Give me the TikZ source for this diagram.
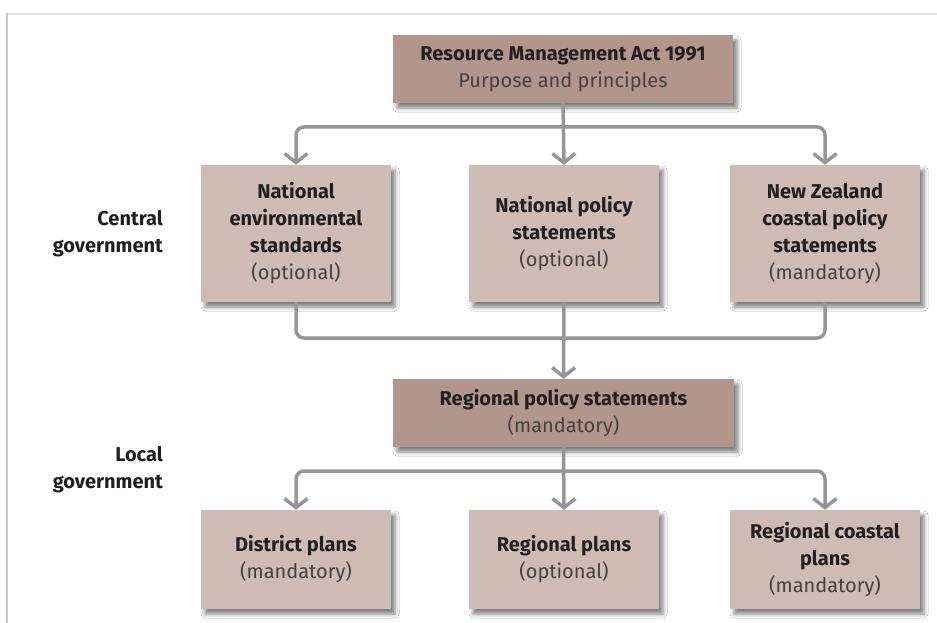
\documentclass[tikz,border=0pt]{standalone}
\usepackage{fontspec}
\setmainfont{Fira Sans}
\usetikzlibrary{arrows.meta,shadows.blur}
\definecolor{rmadark}{RGB}{178,150,140}
\definecolor{boxlight}{RGB}{205,187,180}
\definecolor{conncol}{RGB}{150,150,153}
\definecolor{boldtext}{RGB}{35,31,32}
\definecolor{regtext}{RGB}{70,64,64}
\tikzset{
  boxbase/.style={inner sep=0pt, align=center, text=boldtext,
    font=\fontsize{20}{27}\selectfont,
    blur shadow={shadow xshift=4pt, shadow yshift=-5pt, shadow blur radius=4pt, shadow opacity=50}},
  mainbox/.style={boxbase, fill=rmadark, minimum width=340pt, minimum height=68pt},
  midbox/.style={boxbase, fill=boxlight, minimum width=190pt, minimum height=137pt},
  lowbox/.style={boxbase, fill=boxlight, minimum width=190pt, minimum height=99pt},
  lbl/.style={inner sep=0pt, align=right, text=boldtext, font=\fontsize{20}{27}\selectfont\bfseries},
  ln/.style={draw=conncol, line width=3.5pt, rounded corners=8pt},
  arr/.style={ln, -{Straight Barb[length=9pt,width=23pt]}},
}
\newcommand{\rg}[1]{{\mdseries\color{regtext}#1}}
\begin{document}
\begin{tikzpicture}[x=1pt,y=-1pt]
\useasboundingbox (0,0) rectangle (937,623);
\fill[white] (0,0) rectangle (937,623);
\draw[gray!22, line width=2pt] (7,14) -- (937,14);
\draw[gray!45, line width=1.5pt] (7,13) -- (7,623);

\node[mainbox] (rma) at (563,69) {\bfseries Resource Management Act 1991\\\rg{Purpose and principles}};
\node[midbox] (nes) at (296,233.5) {\bfseries National\\\bfseries environmental\\\bfseries standards\\\rg{(optional)}};
\node[midbox] (nps) at (564,233.5) {\bfseries National policy\\\bfseries statements\\\rg{(optional)}};
\node[midbox] (nzcps) at (825,233.5) {\bfseries New Zealand\\\bfseries coastal policy\\\bfseries statements\\\rg{(mandatory)}};
\node[mainbox, minimum width=341pt] (rps) at (563.5,413) {\bfseries Regional policy statements\\\rg{(mandatory)}};
\node[lowbox] (dp) at (296,559.5) {\bfseries District plans\\\rg{(mandatory)}};
\node[lowbox] (rp) at (564,559.5) {\bfseries Regional plans\\\rg{(optional)}};
\node[lowbox] (rcp) at (825,559.5) {\bfseries Regional coastal\\\bfseries plans\\\rg{(mandatory)}};

\node[lbl, anchor=east] (cg) at (163,233.5) {Central\\government};
\node[lbl, anchor=east] (lg) at (163,470) {Local\\government};

\coordinate (split1) at (563,127);
\coordinate (merge) at (563,338);
\coordinate (split2) at (563,471);

\draw[arr] (rma.south) -- (nps.north);
\draw[arr] (split1) -| (nes.north);
\draw[arr] (split1) -| (nzcps.north);
\draw[ln] (nes.south) |- (merge);
\draw[ln] (nzcps.south) |- (merge);
\draw[arr] (nps.south) -- (rps.north);
\draw[arr] (rps.south) -- (rp.north);
\draw[arr] (split2) -| (dp.north);
\draw[arr] (split2) -| (rcp.north);
\end{tikzpicture}
\end{document}
